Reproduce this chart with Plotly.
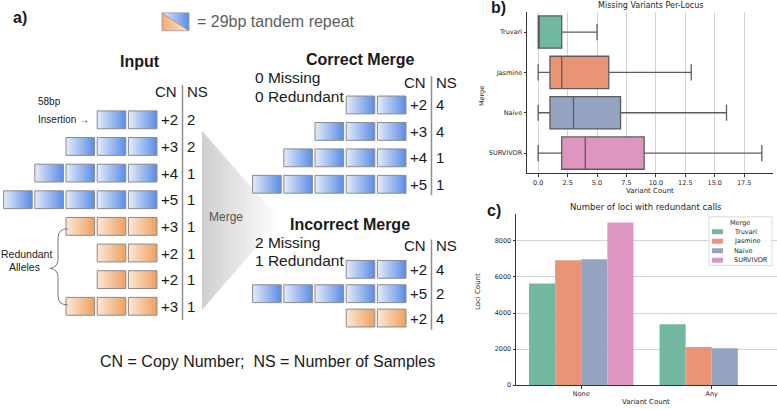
import plotly.graph_objects as go

W, H = 777, 409

# ---------------- panel a data ----------------
input_cn = [2, 3, 4, 5, 3, 2, 2, 3]
input_ns = [2, 2, 1, 1, 1, 1, 1, 1]
input_kind = ["tr", "tr", "tr", "tr", "red", "red", "red", "red"]
correct_cn = [2, 3, 4, 5]
correct_ns = [4, 4, 1, 1]
correct_kind = ["tr", "tr", "tr", "tr"]
incorrect_cn = [2, 5, 2]
incorrect_ns = [4, 2, 4]
incorrect_kind = ["tr", "tr", "red"]

# ---------------- panel b data ----------------
merge_methods = ["Truvari", "Jasmine", "Naive", "SURVIVOR"]
missing_lower = [0, 0, 0, 0]
missing_q1 = [0, 1, 1, 2]
missing_median = [0, 2, 3, 4]
missing_q3 = [2, 6, 7, 9]
missing_upper = [5, 13, 16, 19]
missing_ticks = [0, 2.5, 5, 7.5, 10, 12.5, 15, 17.5]

# ---------------- panel c data ----------------
redundant_cats = ["None", "Any"]
redundant_truvari = [5640, 3380]
redundant_jasmine = [6930, 2120]
redundant_naive = [6990, 2050]
redundant_survivor = [9020, None]
redundant_ticks = [0, 2000, 4000, 6000, 8000]

method_colors = ["#71b7a1", "#e99575", "#95a3c3", "#dc96c0"]

DIA = "Liberation Sans, Arial, sans-serif"
MPL = "DejaVu Sans, sans-serif"
TXT = "#262626"

fig = go.Figure()
annotations = []
shapes = []

# ---------- diagram helpers (axis x3/y3 in pixel-like units) ----------
BW, BP, BH = 28.6, 31.2, 18
grad = {
    "tr": [[0, "#e4ecfa"], [1, "#5a8ce6"]],
    "red": [[0, "#fde8d6"], [1, "#eea060"]],
}


def dtext(x, y, text, size, bold=False, color="#1a1a1a", xanchor="center"):
    annotations.append(dict(
        xref="x3", yref="y3", x=x, y=y, text=("<b>%s</b>" % text) if bold else text,
        showarrow=False, xanchor=xanchor, yanchor="middle",
        font=dict(family=DIA, size=size, color=color)))


def block(x0, x1, yc, kind):
    fig.add_trace(go.Scatter(
        x=[x0, x1, x1, x0, x0], y=[yc - BH / 2, yc - BH / 2, yc + BH / 2, yc + BH / 2, yc - BH / 2],
        mode="lines", fill="toself", line=dict(color="#8a8a8a", width=1),
        fillgradient=dict(type="horizontal", colorscale=grad[kind]),
        xaxis="x3", yaxis="y3", hoverinfo="skip", showlegend=False))


def group(cns, nss, kinds, right, y0, pitch, hy, line_bottom):
    line_x = right + 25.5
    for i, (cn, ns, k) in enumerate(zip(cns, nss, kinds)):
        yc = y0 + i * pitch
        for j in range(cn):
            x1 = right - j * BP
            block(x1 - BW, x1, yc, k)
        dtext(right + 1.5, yc, "+%d" % cn, 15, xanchor="left")
        dtext(line_x + 2.5, yc, str(ns), 15, xanchor="left")
    dtext(line_x - 4, hy, "CN", 15, xanchor="right")
    dtext(line_x + 2.5, hy, "NS", 15, xanchor="left")
    shapes.append(dict(type="line", xref="x3", yref="y3", x0=line_x, x1=line_x,
                       y0=hy - 6, y1=line_bottom, line=dict(color="#8f8f8f", width=1.5)))


# panel a
dtext(20, 18, "a)", 16, bold=True, xanchor="center")
# legend icon
fig.add_trace(go.Scatter(x=[162, 162, 189, 162], y=[13, 31, 31, 13], mode="lines", fill="toself",
                         line=dict(color="#9a9a9a", width=0.8),
                         fillgradient=dict(type="horizontal", colorscale=[[0, "#f3ac72"], [1, "#fde6d2"]]),
                         xaxis="x3", yaxis="y3", hoverinfo="skip", showlegend=False))
fig.add_trace(go.Scatter(x=[162, 189, 189, 162], y=[13, 13, 31, 13], mode="lines", fill="toself",
                         line=dict(color="#9a9a9a", width=0.8),
                         fillgradient=dict(type="horizontal", colorscale=[[0, "#e4ecfa"], [1, "#5a8ce6"]]),
                         xaxis="x3", yaxis="y3", hoverinfo="skip", showlegend=False))
dtext(195, 22, "= 29bp tandem repeat", 16, color="#5e5e5e", xanchor="left")

# merge triangle
fig.add_trace(go.Scatter(x=[202, 202, 280, 202], y=[132, 313, 222, 132], mode="lines", fill="toself",
                         line=dict(width=0, color="rgba(0,0,0,0)"),
                         fillgradient=dict(type="horizontal", colorscale=[[0, "#cfcfcf"], [1, "#ffffff"]]),
                         xaxis="x3", yaxis="y3", hoverinfo="skip", showlegend=False))
dtext(226, 219, "Merge", 12, color="#555555")

# input
dtext(140, 62, "Input", 16, bold=True)
group(input_cn, input_ns, input_kind, 157, 121, 26.9, 92, 323)
dtext(36, 103, "58bp", 10, xanchor="left")
dtext(36, 121, "Insertion \u2192", 10, xanchor="left")
dtext(26.5, 257, "Redundant", 10.5)
dtext(24, 270, "Alleles", 10.5)
shapes.append(dict(type="path", xref="x3", yref="y3",
                   path="M 68,231 Q 58,231 58,240 L 58,262 Q 58,270 50,271 Q 58,272 58,280 L 58,299 Q 58,308 68,308",
                   line=dict(color="#777777", width=1)))

# correct merge
dtext(360, 60, "Correct Merge", 16, bold=True)
dtext(253, 78, "0 Missing", 15.5, xanchor="left")
dtext(253, 97, "0 Redundant", 15.5, xanchor="left")
group(correct_cn, correct_ns, correct_kind, 406, 106, 26.7, 83, 197)

# incorrect merge
dtext(350, 227, "Incorrect Merge", 16, bold=True)
dtext(253, 245, "2 Missing", 15.5, xanchor="left")
dtext(253, 263, "1 Redundant", 15.5, xanchor="left")
group(incorrect_cn, incorrect_ns, incorrect_kind, 406, 272, 24.6, 248, 333)

dtext(98, 365, "CN = Copy Number;  NS = Number of Samples", 16, xanchor="left")

# ---------------- panel b ----------------
for i, m in enumerate(merge_methods):
    fig.add_trace(go.Box(
        y=[m], q1=[missing_q1[i]], median=[missing_median[i]], q3=[missing_q3[i]],
        lowerfence=[missing_lower[i]], upperfence=[missing_upper[i]],
        orientation="h", fillcolor=method_colors[i], line=dict(color="#5c5c5c", width=1.3),
        whiskerwidth=0.5, width=0.8, boxpoints=False, name=m,
        xaxis="x", yaxis="y", showlegend=False, hoverinfo="skip"))

# ---------------- panel c ----------------
for name, vals, col in zip(merge_methods,
                           [redundant_truvari, redundant_jasmine, redundant_naive, redundant_survivor],
                           method_colors):
    fig.add_trace(go.Bar(x=redundant_cats, y=vals, name=name, marker=dict(color=col, line=dict(width=0)),
                         xaxis="x2", yaxis="y2", showlegend=False, hoverinfo="skip"))


def px(x):
    return x / W


def py(y):
    return 1 - y / H


def pann(x, y, text, size, angle=0, bold=False, xanchor="center"):
    annotations.append(dict(xref="paper", yref="paper", x=px(x), y=py(y),
                            text=("<b>%s</b>" % text) if bold else text, showarrow=False,
                            xanchor=xanchor, yanchor="middle", textangle=angle,
                            font=dict(family=MPL if not bold else DIA, size=size, color=TXT if not bold else "#1a1a1a")))


pann(498, 8, "b)", 16, bold=True)
pann(494, 213, "c)", 16, bold=True)
pann(650, 6, "Missing Variants Per-Locus", 8)
pann(650, 193, "Variant Count", 7)
pann(482, 97, "Merge", 6.5, angle=-90)
pann(646, 209, "Number of loci with redundant calls", 8.5)
pann(646, 405.5, "Variant Count", 7)
pann(478, 295, "Loci Count", 7, angle=-90)

# manual legend for panel c
shapes.append(dict(type="rect", xref="paper", yref="paper", x0=px(709), x1=px(772), y0=py(219), y1=py(268),
                   fillcolor="rgba(255,255,255,0.85)", line=dict(color="#d0d0d0", width=0.8)))
pann(740, 225, "Merge", 6.5)
for i, (name, col) in enumerate(zip(merge_methods, method_colors)):
    yy = 234 + i * 9.6
    shapes.append(dict(type="rect", xref="paper", yref="paper", x0=px(712), x1=px(723),
                       y0=py(yy - 2.5), y1=py(yy + 2.5), fillcolor=col, line=dict(width=0)))
    pann(732, yy, name, 6.5, xanchor="left")

axis_common = dict(showline=True, linecolor="#333333", linewidth=1, ticks="outside", ticklen=2.5,
                   tickwidth=1, tickcolor="#333333", zeroline=False,
                   tickfont=dict(family=MPL, size=6.5, color=TXT))

fig.update_layout(
    width=W, height=H, margin=dict(l=0, r=0, t=0, b=0),
    paper_bgcolor="white", plot_bgcolor="rgba(0,0,0,0)",
    boxmode="overlay", barmode="group", bargap=0.2, bargroupgap=0,
    showlegend=False,
    xaxis=dict(domain=[px(527), px(773)], range=[-0.95, 19.95], anchor="y",
               tickvals=missing_ticks, ticktext=["%.1f" % v for v in missing_ticks],
               showgrid=True, gridcolor="#d4d4d4", gridwidth=1, **axis_common),
    yaxis=dict(domain=[py(175), py(12)], anchor="x", type="category",
               categoryorder="array", categoryarray=merge_methods, range=[3.5, -0.5],
               showgrid=False, **axis_common),
    xaxis2=dict(domain=[px(516), 1], range=[-0.5, 1.5], anchor="y2", type="category",
                categoryorder="array", categoryarray=redundant_cats, showgrid=False, **axis_common),
    yaxis2=dict(domain=[py(389), py(216)], range=[0, 9500], anchor="x2",
                tickvals=redundant_ticks, ticktext=[str(v) for v in redundant_ticks],
                showgrid=True, gridcolor="#d4d4d4", gridwidth=1, **axis_common),
    xaxis3=dict(domain=[0, px(482)], range=[0, 482], visible=False, anchor="y3", fixedrange=True),
    yaxis3=dict(domain=[0, 1], range=[409, 0], visible=False, anchor="x3", fixedrange=True),
    annotations=annotations, shapes=shapes,
)

fig.write_html("out.html", config={"displayModeBar": False},
               post_script="document.body.style.margin='0';document.body.style.overflow='hidden';")
